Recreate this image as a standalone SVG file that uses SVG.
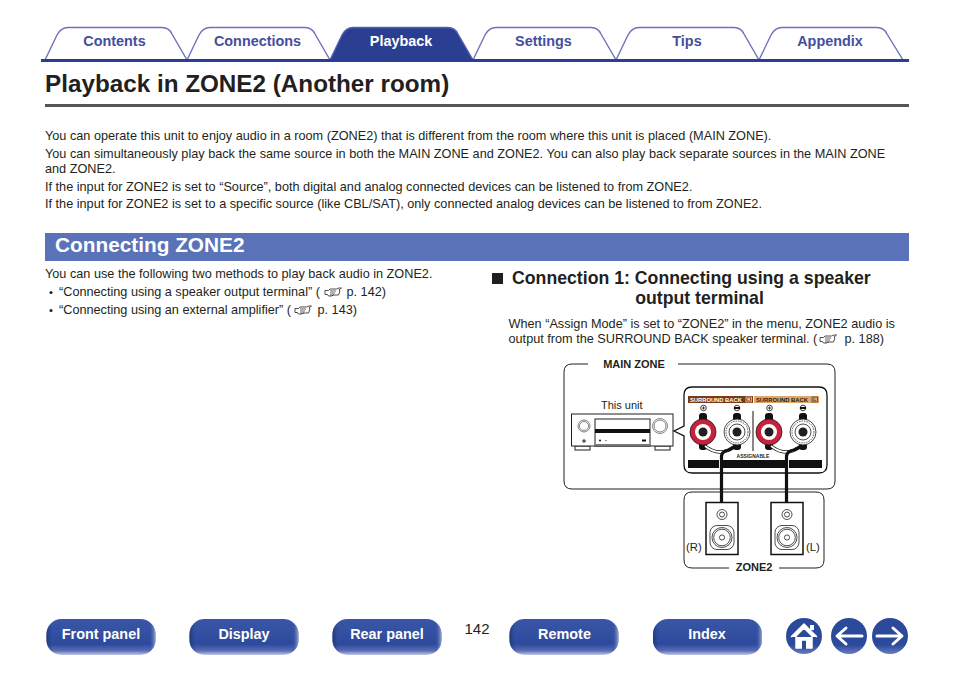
<svg xmlns="http://www.w3.org/2000/svg" xmlns:xlink="http://www.w3.org/1999/xlink" width="954" height="673" viewBox="0 0 954 673">
<style>
text{font-family:"Liberation Sans",Arial,sans-serif;fill:#231f20}
.b{font-size:12.7px}
.be{font-size:12.7px;text-anchor:end}
.tab{font-size:14.4px;font-weight:bold;fill:#454e9e;text-anchor:middle}
.tabp{fill:#fff;stroke:#6e70bb;stroke-width:1.4}
.btn{font-size:14.4px;font-weight:bold;fill:#fff;text-anchor:middle}
.k{fill:none;stroke:#231f20;stroke-width:1}
.t{fill:none;stroke:#231f20;stroke-width:.8}
.g{fill:none;stroke:#666;stroke-width:.8}
.h{font-size:17.7px;font-weight:bold}
.sm{font-size:11px;font-weight:bold;text-anchor:middle}
.lb{font-size:11.300px}
.cb{fill:none;stroke:#111;stroke-width:3.2}
</style>
<defs>
<linearGradient id="bg" x1="0" y1="0" x2="0" y2="1"><stop offset="0" stop-color="#3a56a6"/><stop offset=".7" stop-color="#2c4a9c"/><stop offset=".88" stop-color="#5a6cb4"/><stop offset="1" stop-color="#c3c8e4"/></linearGradient>
<linearGradient id="bs" x1="0" y1="0" x2="1" y2="0"><stop offset="0" stop-color="#1c2f70" stop-opacity=".75"/><stop offset=".06" stop-color="#2c4a9c" stop-opacity="0"/><stop offset=".94" stop-color="#2c4a9c" stop-opacity="0"/><stop offset="1" stop-color="#b8bede" stop-opacity=".8"/></linearGradient>
<linearGradient id="cg" x1="0" y1="0" x2="0" y2="1"><stop offset="0" stop-color="#2c4a9c"/><stop offset=".75" stop-color="#2c4a9c"/><stop offset="1" stop-color="#6a7cc0"/></linearGradient>
<g id="btnbg"><rect width="109" height="36" rx="15" fill="url(#bg)"/><rect width="109" height="36" rx="15" fill="url(#bs)"/></g>
<g id="hand"><path d="M0 1.500h3.500l1.500-1.500h6.500l2.500-1h2.500l-2.500 2 1 1-1.500 4h-5l-2 1h-3l-1-1.500h-2.500z" fill="#fff" stroke="#231f20" stroke-width=".8"/><path d="M5 2h6M5 4h5M5 6h4" stroke="#231f20" stroke-width=".7"/></g>
<g id="term-red"><circle r="13" fill="#c8213a" stroke="#231f20" stroke-width=".8"/><circle r="8" fill="#fff"/><circle r="4.500" fill="#231f20"/></g>
<g id="term-white"><circle r="13" fill="#fff" stroke="#231f20" stroke-width=".8"/><circle r="11" fill="none" stroke="#555" stroke-width="1" stroke-dasharray="1.500 1"/><circle r="8" class="t"/><circle r="4.500" fill="#231f20"/></g>
<g id="spk"><rect x="-16" y="0" width="32" height="52" fill="#fff" stroke="#111" stroke-width="1.500"/><circle cy="12" r="5" class="t"/><circle cy="12" r="2.500" class="t"/><rect x="-12" y="23" width="24" height="24" rx="7" class="t"/><circle cy="35" r="10" class="t"/><circle cy="35" r="8.300" class="t"/><circle cy="35" r="2.600" class="t"/></g>
</defs>
<rect width="954" height="673" fill="#fff"/>

<g id="tabs">
<path id="tab-contents" class="tabp" d="M45 60L57 35Q61 27.500 68 27.500H162Q169 27.500 172 34L187 60Z"/>
<path id="tab-connections" class="tabp" d="M187 60L199 35Q203 27.500 210 27.500H305Q312 27.500 315 34L330 60Z"/>
<path id="tab-playback" d="M330 60L342 35Q346 27.500 353 27.500H448Q455 27.500 458 34L473 60Z" fill="#2b3f92" stroke="#5560b0" stroke-width="1.400"/>
<path id="tab-settings" class="tabp" d="M473 60L485 35Q489 27.500 496 27.500H591Q598 27.500 601 34L616 60Z"/>
<path id="tab-tips" class="tabp" d="M616 60L628 35Q632 27.500 639 27.500H734Q741 27.500 744 34L759 60Z"/>
<path id="tab-appendix" class="tabp" d="M759 60L771 35Q775 27.500 782 27.500H877Q884 27.500 887 34L903 60Z"/>
<rect x="41" y="59" width="868" height="3" fill="#2b3f92"/>
<text class="tab" x="114.500" y="46">Contents</text>
<text class="tab" x="257.500" y="46">Connections</text>
<text class="tab" x="401" y="46" style="fill:#fff">Playback</text>
<text class="tab" x="543.500" y="46">Settings</text>
<text class="tab" x="687" y="46">Tips</text>
<text class="tab" x="830" y="46">Appendix</text>
</g>

<text x="45" y="92" font-size="24.250" font-weight="bold">Playback in ZONE2 (Another room)</text>
<rect x="45" y="104" width="864" height="3" fill="#555"/>

<g id="intro">
<text class="b" x="45" y="140">You can operate this unit to enjoy audio in a room (ZONE2) that is different from the room where this unit is placed (MAIN ZONE).</text>
<text class="b" x="45" y="158">You can simultaneously play back the same source in both the MAIN ZONE and ZONE2. You can also play back separate sources in the MAIN ZONE</text>
<text class="b" x="45" y="173">and ZONE2.</text>
<text class="b" x="45" y="191">If the input for ZONE2 is set to “Source”, both digital and analog connected devices can be listened to from ZONE2.</text>
<text class="b" x="45" y="208">If the input for ZONE2 is set to a specific source (like CBL/SAT), only connected analog devices can be listened to from ZONE2.</text>
</g>

<rect x="45" y="233" width="864" height="28" fill="#5a72b8"/>
<text x="55" y="252" font-size="20.800" font-weight="bold" style="fill:#fff">Connecting ZONE2</text>

<g id="methods">
<text class="b" x="45" y="278">You can use the following two methods to play back audio in ZONE2.</text>
<circle cx="51" cy="292.500" r="1.500" fill="#231f20"/>
<text class="b" x="59" y="296">“Connecting using a speaker output terminal”  (</text>
<use xlink:href="#hand" href="#hand" x="325" y="289"/>
<text class="be" x="386" y="296">p. 142)</text>
<circle cx="51" cy="310.500" r="1.500" fill="#231f20"/>
<text class="b" x="59" y="314">“Connecting using an external amplifier”  (</text>
<use xlink:href="#hand" href="#hand" x="295" y="307"/>
<text class="be" x="357" y="314">p. 143)</text>
</g>

<g id="conn-head">
<rect x="492" y="273" width="11" height="11" fill="#231f20"/>
<text class="h" x="512" y="284">Connection 1: Connecting using a speaker</text>
<text class="h" x="699.500" y="304" text-anchor="middle">output terminal</text>
<text class="b" x="508.500" y="328">When “Assign Mode” is set to “ZONE2” in the menu, ZONE2 audio is</text>
<text class="b" x="508.500" y="343">output from the SURROUND BACK speaker terminal.  (</text>
<use xlink:href="#hand" href="#hand" x="820" y="336"/>
<text class="be" x="884" y="343">p. 188)</text>
</g>

<g id="main-zone">
<path class="k" d="M588 364H572Q564 364 564 372V481Q564 489 572 489H827Q835 489 835 481V372Q835 364 827 364H678"/>
<text class="sm" x="634" y="368">MAIN ZONE</text>
<text x="601" y="409" font-size="11px">This unit</text>
</g>

<g id="this-unit">
<rect x="575" y="446" width="15" height="4" fill="#fff" stroke="#231f20"/>
<rect x="655" y="446" width="15" height="4" fill="#fff" stroke="#231f20"/>
<rect x="571.500" y="414" width="101.500" height="32" fill="#fff" stroke="#231f20"/>
<rect x="595" y="419" width="55" height="27" fill="#fff" stroke="#231f20"/>
<rect x="595" y="429" width="55" height="4" fill="#111"/>
<rect x="595" y="444" width="55" height="2" fill="#777"/>
<circle cx="584" cy="426" r="6" class="g"/><circle cx="584" cy="426" r="4.600" class="g"/>
<circle cx="660" cy="426" r="7.500" class="g"/><circle cx="660" cy="426" r="6" class="g"/>
<circle cx="584" cy="441" r="1.800" fill="#555"/>
<circle cx="600" cy="440.500" r="1" fill="#111"/><circle cx="606" cy="440.500" r=".6" fill="#111"/>
<rect x="642" y="439.500" width="4" height="2" fill="#111"/>
</g>

<g id="terminal-panel">
<path d="M692 387H819Q827 387 827 395V465Q827 473 819 473H692Q684 473 684 465V436L674 431L684 426V395Q684 387 692 387Z" fill="#fff" stroke="#111" stroke-width="1.300"/>
<rect x="688" y="396" width="65" height="7" fill="#7a3a12"/>
<rect x="754" y="396" width="65" height="7" fill="#e0a868"/>
<text x="690" y="401.600" font-size="5.800" font-weight="bold" style="fill:#fff">SURROUND BACK</text>
<rect x="746" y="397" width="5.500" height="5" fill="none" stroke="#fff" stroke-width=".6"/>
<text x="747.300" y="401.300" font-size="4.400" font-weight="bold" style="fill:#fff">R</text>
<text x="756" y="401.600" font-size="5.800" font-weight="bold">SURROUND BACK</text>
<rect x="812" y="397" width="5.500" height="5" fill="none" stroke="#231f20" stroke-width=".6"/>
<text x="813.300" y="401.300" font-size="4.400" font-weight="bold">L</text>
<rect x="688" y="460" width="134" height="8" fill="#111"/>
<rect x="719" y="460" width="4" height="8" fill="#fff"/>
<rect x="785" y="460" width="4" height="8" fill="#fff"/>
<line x1="753" y1="411" x2="753" y2="451" stroke="#111"/>
<text x="753" y="458" font-size="5" font-weight="bold" text-anchor="middle">ASSIGNABLE</text>
<g fill="#111">
<rect x="699" y="413" width="8" height="9" rx="3"/><rect x="733" y="413" width="8" height="9" rx="3"/><rect x="765" y="413" width="8" height="9" rx="3"/><rect x="799" y="413" width="8" height="9" rx="3"/>
<rect x="699" y="442" width="8" height="8" rx="3"/><rect x="733" y="442" width="8" height="8" rx="3"/><rect x="765" y="442" width="8" height="8" rx="3"/><rect x="799" y="442" width="8" height="8" rx="3"/>
</g>
<g fill="none" stroke="#111" stroke-width=".8">
<circle cx="703.500" cy="408" r="2.800"/><circle cx="769.500" cy="408" r="2.800"/><circle cx="737" cy="408" r="2.800"/><circle cx="803" cy="408" r="2.800"/>
<path d="M702 408h3M703.500 406.500v3M768 408h3M769.500 406.500v3"/>
</g>
<rect x="734" y="407" width="6" height="2" fill="#111"/><rect x="800" y="407" width="6" height="2" fill="#111"/>
<use xlink:href="#term-red" href="#term-red" x="703" y="432"/>
<use xlink:href="#term-white" href="#term-white" x="737" y="432"/>
<use xlink:href="#term-red" href="#term-red" x="769" y="432"/>
<use xlink:href="#term-white" href="#term-white" x="803" y="432"/>
</g>

<g id="connectors">
<path d="M705 446Q720 458 735 446" fill="none" stroke="#111" stroke-width="3.400"/>
<path d="M705 446Q720 458 735 446" fill="none" stroke="#fff" stroke-width="1.800"/>
<path d="M771 446Q786 458 801 446" fill="none" stroke="#111" stroke-width="3.400"/>
<path d="M771 446Q786 458 801 446" fill="none" stroke="#fff" stroke-width="1.800"/>
<path class="cb" d="M721.500 502V456Q722 451 729 450L736 446"/>
<path class="cb" d="M786.500 502V456Q787 451 794 450L802 446"/>
</g>

<g id="zone2">
<path d="M729 568H692Q684 568 684 560V500Q684 492 692 492H816Q824 492 824 500V560Q824 568 816 568H779" fill="none" stroke="#231f20"/>
<text class="sm" x="754" y="571">ZONE2</text>
</g>
<g id="speaker-r"><use xlink:href="#spk" href="#spk" x="722" y="502.500"/><text class="lb" x="686" y="551">(R)</text></g>
<g id="speaker-l"><use xlink:href="#spk" href="#spk" x="787" y="502.500"/><text class="lb" x="806" y="551">(L)</text></g>

<g id="nav">
<g id="btn-front"><use xlink:href="#btnbg" href="#btnbg" x="46.500" y="619"/><text class="btn" x="101" y="639">Front panel</text></g>
<g id="btn-display"><use xlink:href="#btnbg" href="#btnbg" x="189.500" y="619"/><text class="btn" x="244" y="639">Display</text></g>
<g id="btn-rear"><use xlink:href="#btnbg" href="#btnbg" x="332.500" y="619"/><text class="btn" x="387" y="639">Rear panel</text></g>
<g id="btn-remote"><use xlink:href="#btnbg" href="#btnbg" x="509.500" y="619"/><text class="btn" x="564.500" y="639">Remote</text></g>
<g id="btn-index"><use xlink:href="#btnbg" href="#btnbg" x="653" y="619"/><text class="btn" x="707" y="639">Index</text></g>
<text x="477" y="634" font-size="15" text-anchor="middle">142</text>
<g id="btn-home"><circle cx="804" cy="636" r="18" fill="url(#cg)"/>
<path d="M791 637L804 624L817 637M796 636V648H801.500V640H806.500V648H812V636L804 628Z" fill="#fff" stroke="#fff" stroke-width="1.500" stroke-linejoin="round"/><rect x="810" y="625" width="4" height="5" fill="#fff"/><rect x="802" y="641" width="4" height="8" fill="#2c4a9c"/></g>
<g id="btn-back"><circle cx="849" cy="636" r="18" fill="url(#cg)"/>
<path d="M862 636H838M846 628L837 636L846 644" fill="none" stroke="#fff" stroke-width="3" stroke-linecap="round" stroke-linejoin="round"/></g>
<g id="btn-next"><circle cx="890" cy="636" r="18" fill="url(#cg)"/>
<path d="M877 636H901M893 628L902 636L893 644" fill="none" stroke="#fff" stroke-width="3" stroke-linecap="round" stroke-linejoin="round"/></g>
</g>
</svg>
